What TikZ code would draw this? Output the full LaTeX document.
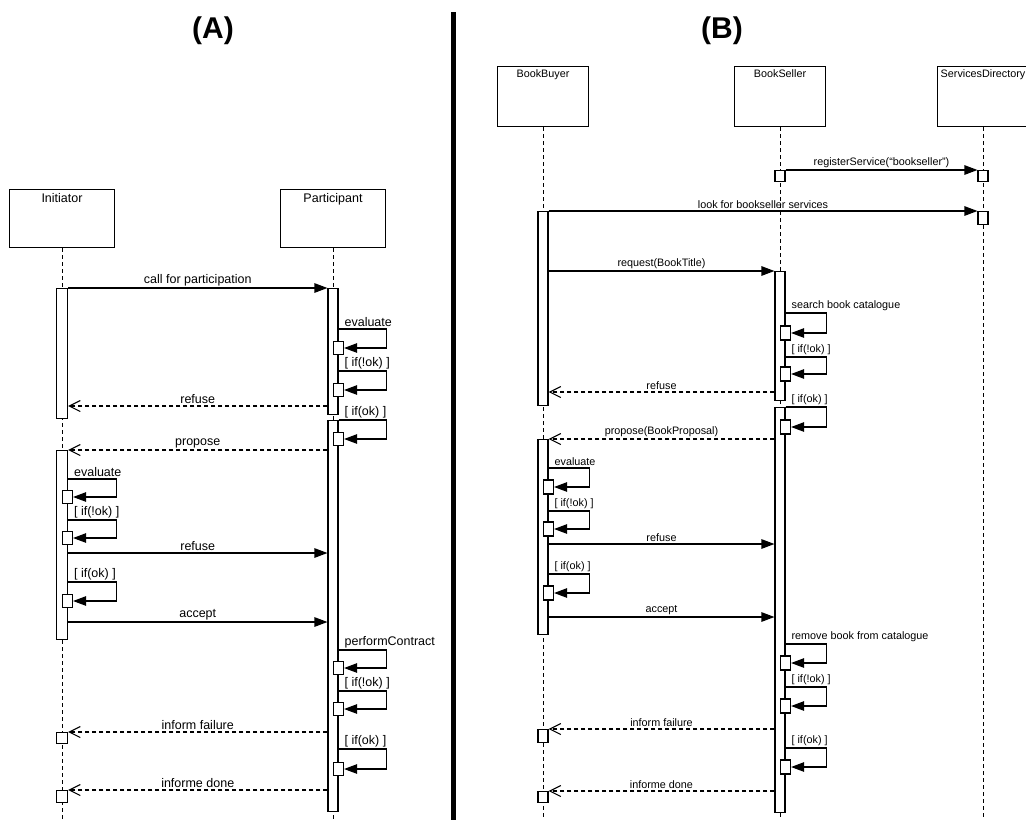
\documentclass[tikz,border=0pt]{standalone}
\usepackage{fontspec}
\setmainfont{Liberation Sans}
\usetikzlibrary{arrows.meta}

\begin{document}
\begin{tikzpicture}[
    x=1pt, y=-1pt,
    line width=1.1pt,
    hbox/.style={draw, inner sep=0pt, anchor=north},
    hlbl/.style={anchor=north, inner sep=3.5pt},
    life/.style={dash pattern=on 4pt off 3pt, line width=0.9pt},
    bar/.style={draw, fill=white, inner sep=0pt, minimum width=10pt, anchor=north},
    sbox/.style={draw, fill=white, inner sep=0pt, minimum width=10pt, anchor=west},
    msg/.style={-{Triangle[length=13pt, width=9.5pt]}},
    ret/.style={dash pattern=on 4pt off 3pt, -{Straight Barb[length=11pt, width=11pt]}},
    lbl/.style={above, inner sep=1.5pt},
    clbl/.style={above right, inner sep=1.5pt, xshift=4pt},
    title/.style={font=\fontsize{30}{32}\selectfont\bfseries, anchor=base},
]
\useasboundingbox (0,0) rectangle (1026,820);
\clip (0,0) rectangle (1026,820);

\node[title] (ta) at (213,38) {(A)};
\node[title] (tb) at (722,38) {(B)};
\draw[line width=5pt] (453,12) -- (453,820);

\begin{scope}[font=\fontsize{12.5}{14}\selectfont]
\node[hbox, minimum width=105pt, minimum height=58pt, label={[hlbl]north:Initiator}] (ini) at (62,189) {};
\node[hbox, minimum width=105pt, minimum height=58pt, label={[hlbl]north:Participant}] (par) at (333,189) {};
\draw[life] (ini.south) -- (ini.south |- 0,820);
\draw[life] (par.south) -- (par.south |- 0,820);

\node[bar, minimum width=11pt, minimum height=130pt] (iniA1) at (62,288) {};
\node[bar, minimum height=126pt] (parA1) at (333,288) {};
\node[bar, minimum height=391pt] (parA2) at (333,420) {};
\node[bar, minimum width=11pt, minimum height=189pt] (iniA2) at (62,450) {};
\node[bar, minimum width=11pt, minimum height=11pt] (iniF) at (62,732) {};
\node[bar, minimum width=11pt, minimum height=12pt] (iniD) at (62,790) {};

\node[sbox, minimum height=13pt] (pE1) at (333,348) {};
\node[sbox, minimum height=13pt] (pE2) at (333,390) {};
\node[sbox, minimum height=13pt] (pE3) at (333,439) {};
\node[sbox, minimum height=13pt] (pE4) at (333,668) {};
\node[sbox, minimum height=13pt] (pE5) at (333,709) {};
\node[sbox, minimum height=13pt] (pE6) at (333,769) {};
\node[sbox, minimum height=13pt] (iE1) at (62,497) {};
\node[sbox, minimum height=13pt] (iE2) at (62,538) {};
\node[sbox, minimum height=13pt] (iE3) at (62,601) {};

\draw[msg] (parA1.east |- 0,329) node[clbl] {evaluate} -- ++(48,0) |- (pE1.east);
\draw[msg] (parA1.east |- 0,371) node[clbl] {[ if(!ok) ]} -- ++(48,0) |- (pE2.east);
\draw[msg] (parA2.east |- 0,420) node[clbl] {[ if(ok) ]} -- ++(48,0) |- (pE3.east);
\draw[msg] (parA2.east |- 0,650) node[clbl] {performContract} -- ++(48,0) |- (pE4.east);
\draw[msg] (parA2.east |- 0,691) node[clbl] {[ if(!ok) ]} -- ++(48,0) |- (pE5.east);
\draw[msg] (parA2.east |- 0,749) node[clbl] {[ if(ok) ]} -- ++(48,0) |- (pE6.east);
\draw[msg] (iniA2.east |- 0,479) node[clbl] {evaluate} -- ++(48,0) |- (iE1.east);
\draw[msg] (iniA2.east |- 0,520) node[clbl] {[ if(!ok) ]} -- ++(48,0) |- (iE2.east);
\draw[msg] (iniA2.east |- 0,582) node[clbl] {[ if(ok) ]} -- ++(48,0) |- (iE3.east);

\draw[msg] (iniA1.east |- 0,288) -- (parA1.west |- 0,288) node[lbl, midway] {call for participation};
\draw[ret] (parA1.west |- 0,406) -- (iniA1.east |- 0,406) node[lbl, midway] {refuse};
\draw[ret] (parA2.west |- 0,450) -- (iniA2.north east) node[lbl, midway] {propose};
\draw[msg] (iniA2.east |- 0,553) -- (parA2.west |- 0,553) node[lbl, midway] {refuse};
\draw[msg] (iniA2.east |- 0,622) -- (parA2.west |- 0,622) node[lbl, midway] {accept};
\draw[ret] (parA2.west |- 0,732) -- (iniF.north east) node[lbl, midway] {inform failure};
\draw[ret] (parA2.west |- 0,790) -- (iniD.north east) node[lbl, midway] {informe done};
\end{scope}

\begin{scope}[font=\fontsize{10.8}{12}\selectfont]
\node[hbox, minimum width=91pt, minimum height=60pt, label={[hlbl]north:BookBuyer}] (buy) at (543,66) {};
\node[hbox, minimum width=91pt, minimum height=60pt, label={[hlbl]north:BookSeller}] (sel) at (780,66) {};
\node[hbox, minimum width=91pt, minimum height=60pt, label={[hlbl]north:ServicesDirectory}] (dir) at (983,66) {};
\draw[life] (buy.south) -- (buy.south |- 0,820);
\draw[life] (sel.south) -- (sel.south |- 0,820);
\draw[life] (dir.south) -- (dir.south |- 0,820);

\node[bar, minimum height=194pt] (buyA1) at (543,211) {};
\node[bar, minimum height=129pt] (selA1) at (780,271) {};
\node[bar, minimum height=405pt] (selA2) at (780,407) {};
\node[bar, minimum height=195pt] (buyA2) at (543,439) {};
\node[bar, minimum height=11pt] (selR) at (780,170) {};
\node[bar, minimum height=11pt] (dirR) at (983,170) {};
\node[bar, minimum height=13pt] (dirL) at (983,211) {};
\node[bar, minimum height=13pt] (buyF) at (543,729) {};
\node[bar, minimum height=11pt] (buyD) at (543,791) {};

\node[sbox, minimum height=14pt] (sS1) at (780,333) {};
\node[sbox, minimum height=14pt] (sS2) at (780,374) {};
\node[sbox, minimum height=14pt] (sS3) at (780,427) {};
\node[sbox, minimum height=14pt] (sS4) at (780,663) {};
\node[sbox, minimum height=14pt] (sS5) at (780,706) {};
\node[sbox, minimum height=14pt] (sS6) at (780,767) {};
\node[sbox, minimum height=14pt] (bE1) at (543,487) {};
\node[sbox, minimum height=14pt] (bE2) at (543,529) {};
\node[sbox, minimum height=14pt] (bE3) at (543,593) {};

\draw[msg] (selA1.east |- 0,313) node[clbl] {search book catalogue} -- ++(41,0) |- (sS1.east);
\draw[msg] (selA1.east |- 0,357) node[clbl] {[ if(!ok) ]} -- ++(41,0) |- (sS2.east);
\draw[msg] (selA2.east |- 0,407) node[clbl] {[ if(ok) ]} -- ++(41,0) |- (sS3.east);
\draw[msg] (selA2.east |- 0,644) node[clbl] {remove book from catalogue} -- ++(41,0) |- (sS4.east);
\draw[msg] (selA2.east |- 0,687) node[clbl] {[ if(!ok) ]} -- ++(41,0) |- (sS5.east);
\draw[msg] (selA2.east |- 0,748) node[clbl] {[ if(ok) ]} -- ++(41,0) |- (sS6.east);
\draw[msg] (buyA2.east |- 0,468) node[clbl] {evaluate} -- ++(41,0) |- (bE1.east);
\draw[msg] (buyA2.east |- 0,511) node[clbl] {[ if(!ok) ]} -- ++(41,0) |- (bE2.east);
\draw[msg] (buyA2.east |- 0,574) node[clbl] {[ if(ok) ]} -- ++(41,0) |- (bE3.east);

\draw[msg] (selR.north east) -- (dirR.north west) node[lbl, midway] {registerService(``bookseller'')};
\draw[msg] (buyA1.north east) -- (dirL.north west) node[lbl, midway] {look for bookseller services};
\draw[msg] (buyA1.east |- 0,271) -- (selA1.north west) node[lbl, midway] {request(BookTitle)};
\draw[ret] (selA1.west |- 0,392) -- (buyA1.east |- 0,392) node[lbl, midway] {refuse};
\draw[ret] (selA2.west |- 0,439) -- (buyA2.north east) node[lbl, midway] {propose(BookProposal)};
\draw[msg] (buyA2.east |- 0,544) -- (selA2.west |- 0,544) node[lbl, midway] {refuse};
\draw[msg] (buyA2.east |- 0,617) -- (selA2.west |- 0,617) node[lbl, midway] {accept};
\draw[ret] (selA2.west |- 0,729) -- (buyF.north east) node[lbl, midway] {inform failure};
\draw[ret] (selA2.west |- 0,791) -- (buyD.north east) node[lbl, midway] {informe done};
\end{scope}
\end{tikzpicture}
\end{document}
